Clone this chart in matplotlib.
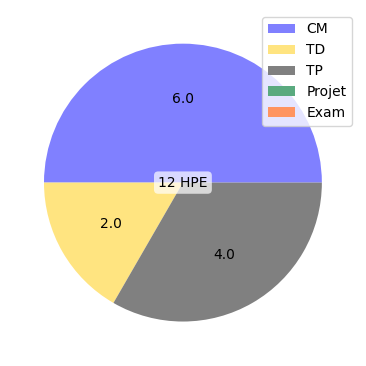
import matplotlib
matplotlib.use("Agg")
import matplotlib.pyplot as plt

labels = ["CM", "TD", "TP", "Projet", "Exam"]
values = [6, 2, 4, 0, 0]
colors = ["#8080ff", "#ffe480", "#808080", "#5aaa7f", "#ff9460"]
total = sum(values)
center_label = f"{total} HPE"

fig = plt.figure(figsize=(3.66, 3.66), dpi=100)
ax = fig.add_axes([0.0253, 0.0266, 0.949, 0.949])

def fmt(p):
    v = p * total / 100.0
    return f"{v:.1f}" if v > 0 else ""

wedges, texts, autotexts = ax.pie(values, colors=colors, autopct=fmt,
                                  startangle=0, counterclock=True)
ax.set_xlim(-1.25, 1.25)
ax.set_ylim(-1.25, 1.25)
ax.set_aspect("equal")

ax.text(0, 0, center_label, ha="center", va="center", fontsize=10,
        bbox=dict(boxstyle="round", facecolor="white", edgecolor="none", alpha=0.7))

fig.legend(wedges, labels, loc="upper right", bbox_to_anchor=(0.981, 0.973))

fig.savefig("out.png", dpi=100)
